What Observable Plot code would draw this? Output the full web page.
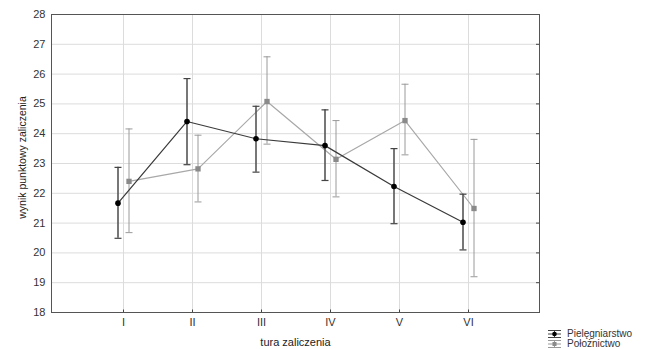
<!DOCTYPE html>
<html>
<head>
<meta charset="utf-8">
<script src="https://cdn.jsdelivr.net/npm/d3@7"></script>
<script src="https://cdn.jsdelivr.net/npm/@observablehq/plot@0.6"></script>
<style>
  html, body { margin: 0; padding: 0; background: #fff; }
  #wrap { position: relative; width: 646px; height: 349px; overflow: hidden; font-family: "Liberation Sans", Arial, sans-serif; }
  #legend { position: absolute; left: 547px; top: 329px; font-size: 10px; color: #333; line-height: 10px; }
  #legend .row { display: flex; align-items: center; height: 10px; }
  #legend svg { margin-right: 5px; }
</style>
</head>
<body>
<div id="wrap">
  <div id="chart"></div>
  <div id="legend"></div>
</div>
<script>
const categories = ["I", "II", "III", "IV", "V", "VI"];
const seriesNames = ["Pielęgniarstwo", "Położnictwo"];
const pielMean = [21.67, 24.41, 23.83, 23.60, 22.23, 21.03];
const pielLow  = [20.49, 22.96, 22.71, 22.43, 20.98, 20.10];
const pielHigh = [22.87, 25.85, 24.92, 24.80, 23.50, 21.97];
const polMean  = [22.40, 22.82, 25.08, 23.14, 24.44, 21.49];
const polLow   = [20.68, 21.71, 23.65, 21.88, 23.29, 19.20];
const polHigh  = [24.16, 23.95, 26.58, 24.44, 25.66, 23.81];
const yTicks = [18, 19, 20, 21, 22, 23, 24, 25, 26, 27, 28];

const piel = categories.map((c, i) => ({cat: c, mean: pielMean[i], lo: pielLow[i], hi: pielHigh[i]}));
const pol = categories.map((c, i) => ({cat: c, mean: polMean[i], lo: polLow[i], hi: polHigh[i]}));

const OFF = 5.5;
const font = "Liberation Sans, Arial, sans-serif";
const capSymbol = {draw(ctx) { ctx.moveTo(-3.5, 0); ctx.lineTo(3.5, 0); }};

const chart = Plot.plot({
  width: 646,
  height: 349,
  marginLeft: 51,
  marginRight: 107,
  marginTop: 14,
  marginBottom: 37,
  style: {fontFamily: font, fontSize: "11px", color: "#333", background: "#fff"},
  x: {type: "point", domain: categories, padding: 1, label: null},
  y: {domain: [18, 28], label: null},
  marks: [
    Plot.ruleY(yTicks, {stroke: "#dcdcdc", strokeWidth: 1}),
    Plot.ruleX(categories, {x: d => d, stroke: "#dcdcdc", strokeWidth: 1}),
    Plot.axisY({ticks: yTicks, tickSize: 0, tickPadding: 6, fill: "#333", fontSize: 11, label: null}),
    Plot.axisY({anchor: "right", ticks: yTicks, tickSize: -4, stroke: "#444", tickFormat: () => "", label: null}),
    Plot.axisX({tickSize: 0, tickPadding: 6, fill: "#333", fontSize: 11, label: null}),
    Plot.axisX({tickSize: -2.5, stroke: "#444", tickFormat: () => "", label: null}),
    Plot.text(["wynik punktowy zaliczenia"], {frameAnchor: "left", textAnchor: "middle", lineAnchor: "middle", dx: -28.5, dy: -6, rotate: -90, fontSize: 10.5, fill: "#222", text: d => d}),
    Plot.text(["tura zaliczenia"], {frameAnchor: "bottom", lineAnchor: "middle", dy: 30, fontSize: 11, fill: "#222", text: d => d}),
    // Położnictwo (grey)
    Plot.ruleX(pol, {x: "cat", y1: "lo", y2: "hi", dx: OFF, stroke: "#9a9a9a", strokeWidth: 1}),
    Plot.dot(pol, {x: "cat", y: "lo", dx: OFF, symbol: capSymbol, stroke: "#9a9a9a", strokeWidth: 1}),
    Plot.dot(pol, {x: "cat", y: "hi", dx: OFF, symbol: capSymbol, stroke: "#9a9a9a", strokeWidth: 1}),
    Plot.line(pol, {x: "cat", y: "mean", dx: OFF, stroke: "#a8a8a8", strokeWidth: 1.2}),
    Plot.dot(pol, {x: "cat", y: "mean", dx: OFF, symbol: "square", r: 3, fill: "#8a8a8a", stroke: "none"}),
    // Pielęgniarstwo (black)
    Plot.ruleX(piel, {x: "cat", y1: "lo", y2: "hi", dx: -OFF, stroke: "#555", strokeWidth: 1.6}),
    Plot.dot(piel, {x: "cat", y: "lo", dx: -OFF, symbol: capSymbol, stroke: "#444", strokeWidth: 1.2}),
    Plot.dot(piel, {x: "cat", y: "hi", dx: -OFF, symbol: capSymbol, stroke: "#444", strokeWidth: 1.2}),
    Plot.line(piel, {x: "cat", y: "mean", dx: -OFF, stroke: "#3a3a3a", strokeWidth: 1.2}),
    Plot.dot(piel, {x: "cat", y: "mean", dx: -OFF, r: 2.8, fill: "#000", stroke: "none"}),
    Plot.frame({stroke: "#555", strokeWidth: 1})
  ]
});
document.getElementById("chart").appendChild(chart);

// Legend
const legendStyles = [
  {bar: "#444", mark: "circle", fill: "#000"},
  {bar: "#999", mark: "square", fill: "#8a8a8a"}
];
const legend = document.getElementById("legend");
seriesNames.forEach((name, i) => {
  const st = legendStyles[i];
  const row = document.createElement("div");
  row.className = "row";
  const ns = "http://www.w3.org/2000/svg";
  const s = document.createElementNS(ns, "svg");
  s.setAttribute("width", "15");
  s.setAttribute("height", "10");
  const p = document.createElementNS(ns, "path");
  p.setAttribute("d", "M1,1.5H14M1,8.5H14M7.5,1.5V8.5M1,5H14");
  p.setAttribute("stroke", st.bar);
  p.setAttribute("stroke-width", "1");
  p.setAttribute("fill", "none");
  s.appendChild(p);
  let m;
  if (st.mark === "circle") {
    m = document.createElementNS(ns, "circle");
    m.setAttribute("cx", "7.5"); m.setAttribute("cy", "5"); m.setAttribute("r", "2.3");
  } else {
    m = document.createElementNS(ns, "rect");
    m.setAttribute("x", "5.5"); m.setAttribute("y", "3"); m.setAttribute("width", "4"); m.setAttribute("height", "4");
  }
  m.setAttribute("fill", st.fill);
  s.appendChild(m);
  row.appendChild(s);
  const t = document.createElement("span");
  t.textContent = name;
  row.appendChild(t);
  legend.appendChild(row);
});
</script>
</body>
</html>
